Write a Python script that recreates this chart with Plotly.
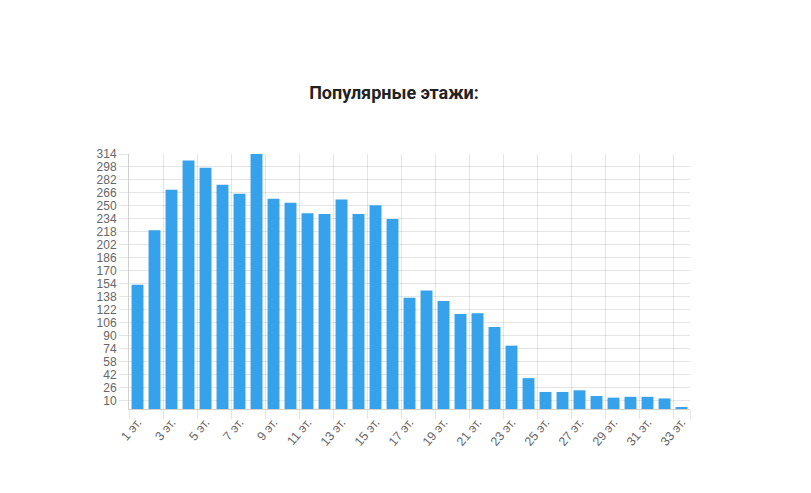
import plotly.graph_objects as go

floors = [f"{i} эт." for i in range(1, 34)]
counts = [153, 220, 270, 306, 297, 276, 265, 314, 259, 254, 241, 240, 258, 240, 251, 234,
          137, 146, 133, 117, 118, 101, 78, 38, 21, 21, 23, 16, 14, 15, 15, 13, 2]
y_ticks = list(range(10, 315, 16))

x_pos = list(range(1, len(floors) + 1))
label_pos = x_pos[::2]
label_txt = floors[::2]
grid_pos = [p - 0.5 for p in label_pos] + [len(floors) + 0.5]

fig = go.Figure(go.Bar(x=x_pos, y=counts, marker=dict(color="#36A2EB", line=dict(width=0)),
                       hoverinfo="x+y"))

grid = "rgba(0,0,0,0.1)"
fig.update_layout(
    width=811, height=493,
    margin=dict(l=121, r=129, t=146, b=92),
    paper_bgcolor="white", plot_bgcolor="white",
    bargap=0.3,
    showlegend=False,
    title=dict(text="<b>Популярные этажи:</b>", x=386/811, xref="container", xanchor="center",
               y=1 - 85/493, yref="container", yanchor="middle",
               font=dict(family="Roboto", size=18, color="#222222")),
    font=dict(family="Liberation Sans, Arial", size=12, color="#666666"),
)
fig.update_xaxes(
    range=[0.5, len(floors) + 0.5],
    tickmode="array", tickvals=label_pos, ticktext=label_txt,
    tickangle=-50, ticks="", showgrid=False,
    minor=dict(tickmode="array", tickvals=grid_pos, showgrid=True, gridcolor=grid,
               ticks="outside", ticklen=9, tickcolor=grid, gridwidth=1),
    showline=True, linecolor="rgba(0,0,0,0.18)", linewidth=1,
    zeroline=False, fixedrange=True,
    tickfont=dict(size=12.5, color="#666666"),
)
fig.update_yaxes(
    range=[0, 314],
    tickmode="array", tickvals=y_ticks,
    showgrid=True, gridcolor=grid, gridwidth=1,
    ticks="outside", ticklen=9, tickcolor=grid,
    showline=True, linecolor="rgba(0,0,0,0.18)", linewidth=1,
    zeroline=False, fixedrange=True,
    tickfont=dict(size=12, color="#666666"),
)

fig.write_html("out.html")
